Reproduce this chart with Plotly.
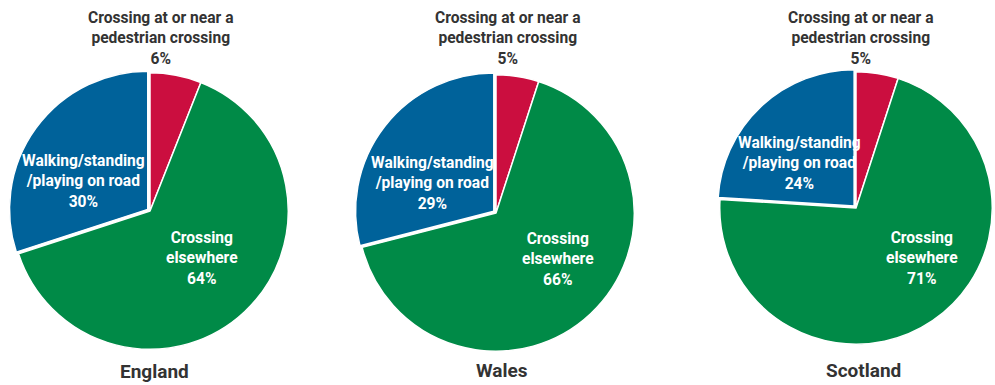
import plotly.graph_objects as go

# Pedestrian casualties by pedestrian action, shares per nation (%)
nations = ["England", "Wales", "Scotland"]
categories = [
    "Crossing at or near a<br>pedestrian crossing",
    "Crossing<br>elsewhere",
    "Walking/standing<br>/playing on road",
]
england = [6, 64, 30]
wales = [5, 66, 29]
scotland = [5, 71, 24]
shares = [england, wales, scotland]

colors = ["#CB0E3F", "#008A47", "#00629A"]
dark_text = "#333333"
font_family = "Liberation Sans Narrow, Arial Narrow, Roboto, sans-serif"

W, H = 995, 385

# Pie domains (pixels: x0, x1, y_top, y_bottom)
domains_px = [(9, 291, 70, 352), (355, 637, 72, 354), (717, 995, 68, 348)]
# Label anchor points (pixels): top label centre, blue label centre, green label centre, title centre
top_lbl = [(160, 38), (508, 38), (860, 38)]
blue_lbl = [(83, 182), (432, 183), (799, 164)]
green_lbl = [(202, 258), (558, 259), (922, 258)]
title_pos = [(154, 371), (502, 370), (863, 370)]


def px_x(x):
    return x / W


def px_y(y):
    return 1 - y / H


fig = go.Figure()
annotations = []
for i, (name, vals) in enumerate(zip(nations, shares)):
    x0, x1, yt, yb = domains_px[i]
    fig.add_trace(go.Pie(
        labels=[c.replace("<br>", " ") for c in categories],
        values=vals,
        sort=False,
        direction="clockwise",
        rotation=0,
        pull=[0.0, 0.0, 0.02],
        marker=dict(colors=colors, line=dict(color="white", width=1.5)),
        textinfo="none",
        hoverinfo="label+percent",
        showlegend=False,
        domain=dict(x=[px_x(x0), px_x(x1)], y=[px_y(yb), px_y(yt)]),
    ))

    common = dict(xref="paper", yref="paper", showarrow=False,
                  xanchor="center", yanchor="middle", align="center")
    annotations.append(dict(
        x=px_x(top_lbl[i][0]), y=px_y(top_lbl[i][1]),
        text=f"<b>{categories[0]}<br>{vals[0]}%</b>",
        font=dict(family=font_family, size=15.6, color=dark_text), **common))
    annotations.append(dict(
        x=px_x(blue_lbl[i][0]), y=px_y(blue_lbl[i][1]),
        text=f"<b>{categories[2]}<br>{vals[2]}%</b>",
        font=dict(family=font_family, size=15.6, color="white"), **common))
    annotations.append(dict(
        x=px_x(green_lbl[i][0]), y=px_y(green_lbl[i][1]),
        text=f"<b>{categories[1]}<br>{vals[1]}%</b>",
        font=dict(family=font_family, size=15.6, color="white"), **common))
    annotations.append(dict(
        x=px_x(title_pos[i][0]), y=px_y(title_pos[i][1]),
        text=f"<b>{name}</b>",
        font=dict(family=font_family, size=19, color=dark_text), **common))

fig.update_layout(
    width=W, height=H,
    margin=dict(l=0, r=0, t=0, b=0),
    paper_bgcolor="white",
    plot_bgcolor="white",
    annotations=annotations,
)

fig.write_html("out.html")
